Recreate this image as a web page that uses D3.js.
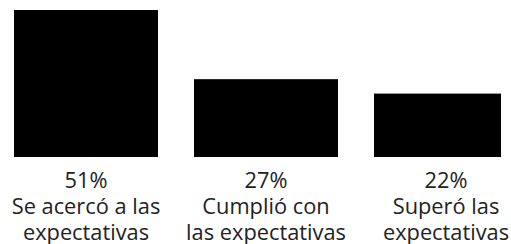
<!DOCTYPE html>
<html>
<head>
<meta charset="utf-8">
<script src="https://cdn.jsdelivr.net/npm/d3@7"></script>
<style>
  body { margin: 0; background: #fff; }
  .lbl { font-family: "Open Sans", sans-serif; font-size: 21.8px; fill: #222; }
</style>
</head>
<body>
<div id="chart"></div>
<script>
var categories = ["Se acercó a las|expectativas", "Cumplió con|las expectativas", "Superó las|expectativas"];
var values = [51, 27, 22];

var width = 511, height = 244;

var x = d3.scaleBand()
    .domain(categories)
    .range([-4, 536])
    .paddingInner(0.2)
    .paddingOuter(0.1);
var y = d3.scaleLinear()
    .domain([0, 51])
    .range([157, 10]);

var svg = d3.select("#chart").append("svg")
    .attr("width", width)
    .attr("height", height);

// bars stop at the right edge of the plot area
svg.append("clipPath").attr("id", "plot")
  .append("rect")
    .attr("x", 0).attr("y", 0)
    .attr("width", 501).attr("height", height);

svg.append("g").attr("clip-path", "url(#plot)")
  .selectAll("rect").data(values).enter().append("rect")
    .attr("x", (d, i) => x(categories[i]))
    .attr("y", d => y(d))
    .attr("width", x.bandwidth())
    .attr("height", d => y(0) - y(d))
    .attr("fill", "#000");

var g = svg.selectAll("g.lab").data(values).enter().append("g").attr("class", "lab");

g.append("text").attr("class", "lbl")
    .attr("text-anchor", "middle")
    .attr("x", (d, i) => x(categories[i]) + x.bandwidth() / 2)
    .attr("y", 187.5)
    .text(d => d + "%");

g.each(function(d, i) {
    var lines = categories[i].split("|");
    var cx = x(categories[i]) + x.bandwidth() / 2;
    lines.forEach(function(t, j) {
        d3.select(this).append("text").attr("class", "lbl")
            .attr("text-anchor", "middle")
            .attr("x", cx)
            .attr("y", 213.5 + j * 26)
            .text(t);
    }, this);
});
</script>
</body>
</html>
